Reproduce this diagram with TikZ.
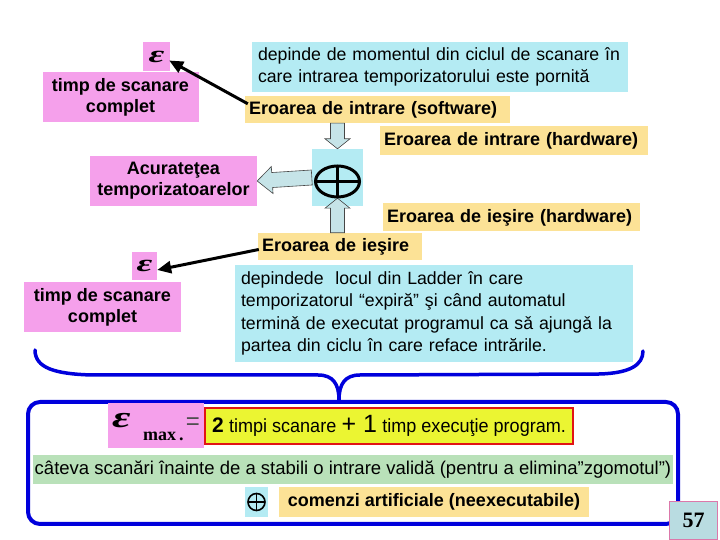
\documentclass[tikz,border=0pt]{standalone}
\usepackage{fontspec}
\setmainfont{Liberation Sans}
\newfontfamily\narrowfont[FakeStretch=0.95]{Liberation Sans}
\newfontfamily\serifnum{Liberation Serif}
\usetikzlibrary{calc,arrows.meta}
\definecolor{pinkc}{RGB}{245,160,235}
\definecolor{cyanc}{RGB}{180,235,243}
\definecolor{yelc}{RGB}{252,226,150}
\definecolor{greenc}{RGB}{185,225,185}
\definecolor{ybright}{RGB}{235,245,50}
\definecolor{redc}{RGB}{225,20,20}
\definecolor{bluec}{RGB}{0,0,220}
\definecolor{arrfill}{RGB}{198,228,232}
\definecolor{arrline}{RGB}{70,70,70}
\definecolor{numfill}{RGB}{185,220,225}
\definecolor{numline}{RGB}{220,120,170}
\tikzset{
  pinkbox/.style={fill=pinkc, inner sep=0pt, align=center, font=\fontsize{18}{21}\selectfont\bfseries},
  epsbox/.style={fill=pinkc, inner sep=0pt, font=\serifnum\bfseries\itshape\fontsize{24}{24}\selectfont},
  cyanbox/.style={fill=cyanc, inner xsep=6pt, inner ysep=0pt, align=left, font=\fontsize{17.7}{22.5}\selectfont},
  yelbox/.style={fill=yelc, inner xsep=4pt, inner ysep=0pt, align=left, font=\fontsize{18}{20}\selectfont\bfseries},
  barr/.style={fill=arrfill, draw=arrline, line width=0.6pt, line join=miter},
  blackarr/.style={line width=3pt, -{Triangle[length=14pt,width=12pt]}},
}
\newcommand\blockarr[5]{%
  \draw[barr] let \p1=(#1), \p2=(#2), \n1={atan2(\y2-\y1,\x2-\x1)}, \n2={veclen(\x2-\x1,\y2-\y1)} in
    ($(\p1)+(\n1+90:#3)$) -- ($(\p1)+(\n1:\n2-#5)+(\n1+90:#3)$) -- ($(\p1)+(\n1:\n2-#5)+(\n1+90:#4)$)
    -- (\p2) -- ($(\p1)+(\n1:\n2-#5)+(\n1-90:#4)$) -- ($(\p1)+(\n1:\n2-#5)+(\n1-90:#3)$)
    -- ($(\p1)+(\n1-90:#3)$) -- cycle;}
\begin{document}
\begin{tikzpicture}[x=1pt,y=1pt]
\useasboundingbox (0,0) rectangle (720,540);
\fill[white] (0,0) rectangle (720,540);

% top part
\node[epsbox, minimum width=27pt, minimum height=29pt] (eps1) at (156.5,483.5) {\scalebox{1.6}[1]{ε}};
\node[pinkbox, minimum width=156pt, minimum height=50pt] (tsc1) at (120.5,443) {timp de scanare\\complet};
\node[cyanbox, minimum width=376pt, minimum height=50pt, text width=364pt] (cyan1) at (440,473)
  {depinde de momentul din ciclul de scanare în\\care intrarea temporizatorului este pornită};
\node[yelbox, minimum width=265pt, minimum height=27pt, text width=257pt] (soft) at (377.5,430.5) {Eroarea de intrare (software)};
\node[yelbox, minimum width=268pt, minimum height=29pt, text width=260pt] (hwin) at (514,399.5) {Eroarea de intrare (hardware)};
\node[pinkbox, minimum width=167pt, minimum height=50pt] (acc) at (173.5,359) {Acurateţea\\temporizatoarelor};
\node[fill=cyanc, minimum width=51pt, minimum height=57pt, inner sep=0pt] (plus) at (337.5,362.5) {};
\node[yelbox, minimum width=257pt, minimum height=28pt, text width=249pt] (hwout) at (511.5,322.5) {Eroarea de ieşire (hardware)};
\node[yelbox, minimum width=164pt, minimum height=27pt, text width=156pt] (out) at (340,293.5) {Eroarea de ieşire};
\node[epsbox, minimum width=25pt, minimum height=28pt] (eps2) at (144.5,274) {\scalebox{1.6}[1]{ε}};
\node[pinkbox, minimum width=157pt, minimum height=50pt] (tsc2) at (102.5,233) {timp de scanare\\complet};
\node[cyanbox, minimum width=398pt, minimum height=97pt, text width=386pt] (cyan2) at (434,226.5)
  {depindede\ \ locul din Ladder în care\\temporizatorul “expiră” şi când automatul\\terminǎ de executat programul ca sǎ ajungǎ la\\partea din ciclu în care reface intrările.};

% block arrows
\blockarr{plus.north |- soft.south}{plus.north}{7}{12.5}{10}
\blockarr{plus.west}{acc.east}{7.5}{13.5}{15}
\blockarr{plus.south |- out.north}{$(plus.south)+(0,8)$}{7}{12.5}{10}

% circled plus
\draw[line width=3pt] ($(plus.center)+(0,-4)$) ellipse (22 and 15.5);
\draw[line width=3pt] ($(plus.center)+(0,11.5)$) -- ($(plus.center)+(0,-19.5)$);
\draw[line width=3pt] ($(plus.center)+(-22,-4)$) -- ($(plus.center)+(22,-4)$);

% black arrows
\draw[blackarr] ($(soft.north west)+(3,-8)$) -- ($(eps1.east)+(-1,-4)$);
\draw[blackarr] ($(out.west)+(1,-3)$) -- ($(eps2.east)+(0,-4)$);

% brace
\draw[bluec, line width=3.5pt, line cap=round]
  (35,190) .. controls (35,172) and (55,166) .. (92,165) -- (318,165)
  .. controls (333,165) and (339,156) .. (339,140)
  .. controls (339,156) and (345,165) .. (360,165) -- (600,166)
  .. controls (630,167) and (643,175) .. (643,189);

% bottom frame
\node[draw=bluec, line width=4pt, rounded corners=12pt, minimum width=650pt, minimum height=122pt, inner sep=0pt] (frame) at (353,77) {};
\node[fill=pinkc, minimum width=96pt, minimum height=45pt, inner sep=0pt] (epsmax) at (156,114.5) {};
\node[anchor=base west, inner sep=0pt, font=\serifnum\bfseries\itshape\fontsize{30}{30}\selectfont] (epsym) at (112,112) {\scalebox{1.5}[1]{ε}};
\node[anchor=base west, inner sep=0pt, font=\serifnum\bfseries\fontsize{18}{18}\selectfont] (maxt) at (143,99) {max\,.};
\node[anchor=base, inner sep=0pt, font=\fontsize{24}{24}\selectfont, text=black!70] (eq) at (193,110) {=};
\node[fill=ybright, draw=redc, line width=2.5pt, minimum width=368pt, minimum height=36pt, inner sep=0pt, font=\fontsize{19}{20}\selectfont] (ybox) at (389,114)
  {{\fontsize{21}{22}\selectfont\bfseries 2} {\narrowfont timpi scanare} {\fontsize{25}{25}\selectfont + 1} {\narrowfont timp execuţie program.}};
\node[fill=greenc, minimum width=640pt, minimum height=29pt, inner sep=0pt, font=\fontsize{18.5}{20}\selectfont] (green) at (353,70.5)
  {câteva scanări înainte de a stabili o intrare validă (pentru a elimina”zgomotul”)};
\node[fill=cyanc, minimum width=23pt, minimum height=30pt, inner sep=0pt] (splus) at (256.5,38) {};
\draw[line width=1.6pt] (splus.center) circle (8.5);
\draw[line width=1.6pt] ($(splus.center)+(0,8.5)$) -- ($(splus.center)+(0,-8.5)$);
\draw[line width=1.6pt] ($(splus.center)+(-8.5,0)$) -- ($(splus.center)+(8.5,0)$);
\node[fill=yelc, minimum width=310pt, minimum height=30pt, inner sep=0pt, font=\bfseries\fontsize{18}{18}\selectfont] (com) at (434,38) {comenzi artificiale (neexecutabile)};
\node[fill=numfill, draw=numline, line width=0.8pt, minimum width=48pt, minimum height=38pt, inner sep=0pt, font=\serifnum\bfseries\fontsize{22}{22}\selectfont] (n57) at (693.5,19.5) {57};
\end{tikzpicture}
\end{document}
